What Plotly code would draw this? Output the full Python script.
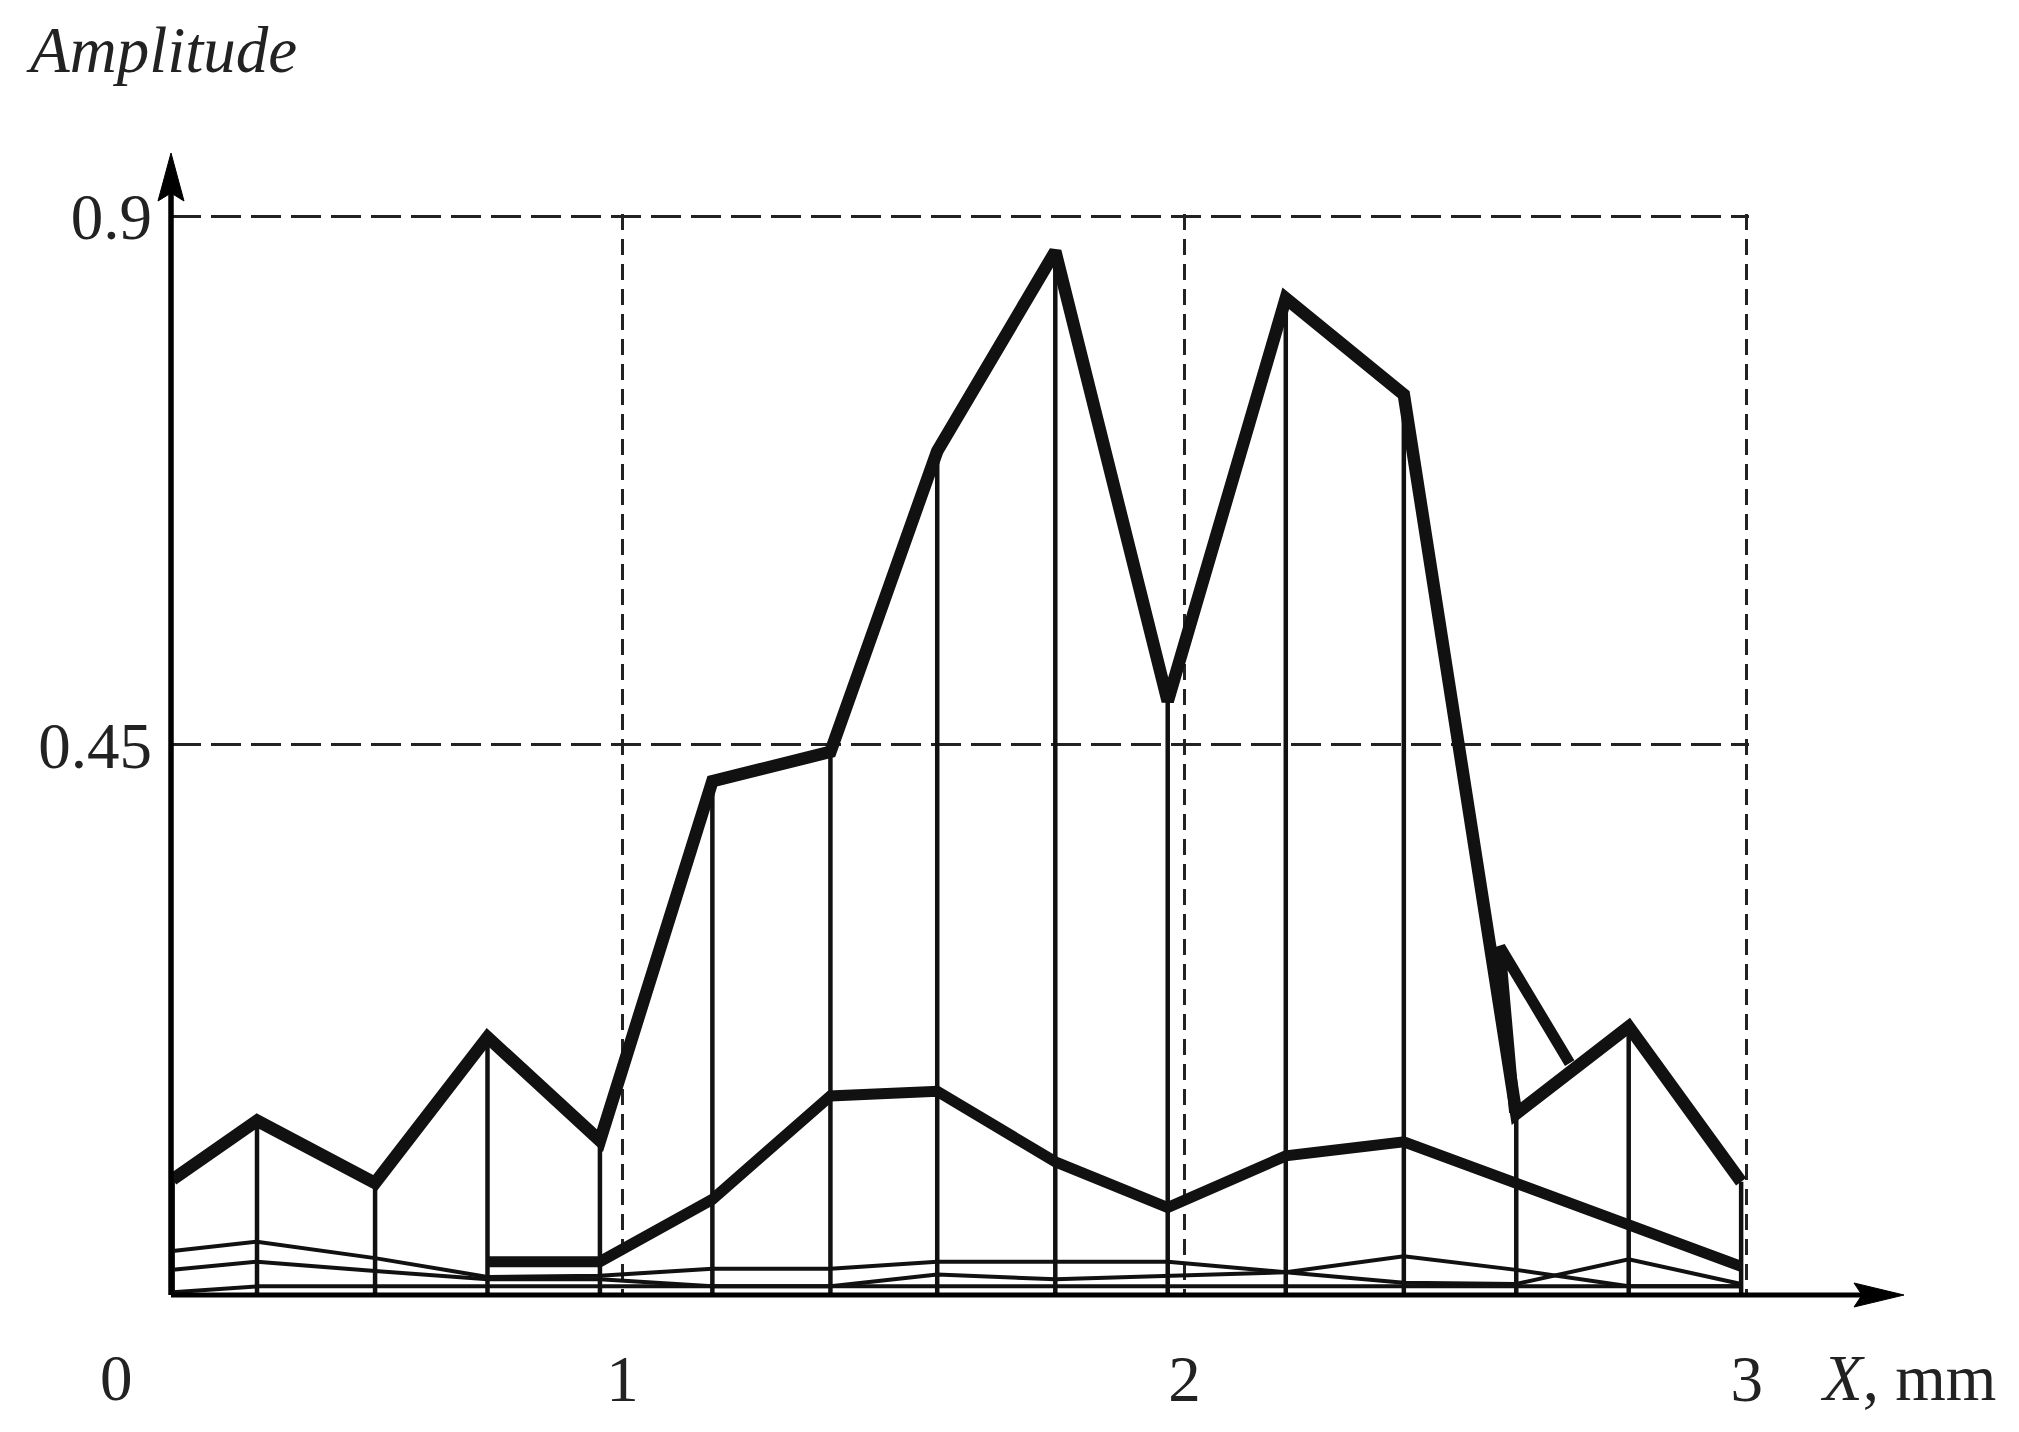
import plotly.graph_objects as go

# ---- data ----
X_MM = [0.2, 0.35, 0.56, 0.76, 0.96, 1.16, 1.37, 1.56, 1.77, 1.97, 2.18, 2.39, 2.59, 2.79, 2.99]
MAIN = [0.080, 0.130, 0.077, 0.201, 0.113, 0.419, 0.444, 0.700, 0.870, 0.487, 0.830, 0.748, 0.136, 0.210, 0.078]
SECOND = [None, None, None, 0.010, 0.010, 0.063, 0.151, 0.155, 0.095, 0.056, 0.100, 0.112, 0.077, 0.040, 0.006]
THIN_A = [0.019, 0.027, 0.013, -0.003, -0.002, 0.004, 0.004, 0.010, 0.010, 0.010, 0.001, -0.008, -0.009, 0.012, -0.009]
THIN_B = [0.003, 0.010, 0.002, -0.005, -0.005, -0.011, -0.011, -0.001, -0.005, -0.002, 0.001, 0.0145, 0.003, -0.011, -0.011]
THIN_C = [-0.016, -0.011, -0.011, -0.011, -0.011, -0.011, -0.011, -0.011, -0.011, -0.011, -0.011, -0.011, -0.011, -0.011, -0.011]
EXTRA_X = [2.587, 2.561, 2.685]
EXTRA_Y = [0.137, 0.278, 0.179]

X_TICKS = [1, 2, 3]
X_TICKTEXT = ["1", "2", "3"]
Y_TICKS = [0.45, 0.9]
Y_TICKTEXT = ["0.45", "0.9"]
X_RANGE = [0.197, 3.004]
Y_RANGE = [-0.0184, 0.9018]

# ---- layout geometry (page has an 8px body margin) ----
OFF = 8
W, H = 2019 - 2 * OFF, 1432 - 2 * OFF
P_LEFT, P_RIGHT, P_TOP, P_BOTTOM = 171, 1749, 214, 1295   # plot area in page pixels
ML, MT = P_LEFT - OFF, P_TOP - OFF
PW, PH = P_RIGHT - P_LEFT, P_BOTTOM - P_TOP
MR, MB = W - ML - PW, H - MT - PH
FONT = "Liberation Serif"
INK = "#111"
FS = 65

def pxp(x):  # page x -> paper
    return (x - P_LEFT) / PW

def pyp(y):  # page y -> paper
    return (P_BOTTOM - y) / PH

fig = go.Figure()

# stems from the main curve to the axis
sx, sy = [], []
for x, y in zip(X_MM, MAIN):
    sx += [x, x, None]
    sy += [y, Y_RANGE[0], None]
fig.add_trace(go.Scatter(x=sx, y=sy, mode="lines", line=dict(color=INK, width=4.5),
                         hoverinfo="skip", showlegend=False))

for ys in (THIN_A, THIN_B, THIN_C):
    fig.add_trace(go.Scatter(x=X_MM, y=ys, mode="lines", line=dict(color=INK, width=4),
                             showlegend=False))

fig.add_trace(go.Scatter(x=X_MM, y=SECOND, mode="lines", line=dict(color=INK, width=11),
                         showlegend=False))
fig.add_trace(go.Scatter(x=X_MM, y=MAIN, mode="lines", line=dict(color=INK, width=12.5),
                         showlegend=False))
fig.add_trace(go.Scatter(x=EXTRA_X, y=EXTRA_Y, mode="lines", line=dict(color=INK, width=11),
                         showlegend=False))

# ---- axes with arrows (paper coordinates) ----
px = 1.0 / PW
py = 1.0 / PH
x_tip = pxp(1904)
y_tip = pyp(153)
shapes = [
    dict(type="line", xref="paper", yref="paper", x0=0, y0=0, x1=x_tip - 30 * px, y1=0,
         line=dict(color="black", width=5)),
    dict(type="line", xref="paper", yref="paper", x0=0, y0=0, x1=0, y1=y_tip - 30 * py,
         line=dict(color="black", width=5.5)),
    # x arrow head
    dict(type="path", xref="paper", yref="paper",
         path=f"M {x_tip} 0 L {x_tip - 50*px} {12*py} L {x_tip - 42*px} 0 L {x_tip - 50*px} {-12*py} Z",
         fillcolor="black", line=dict(color="black", width=1)),
    # y arrow head
    dict(type="path", xref="paper", yref="paper",
         path=f"M 0 {y_tip} L {-13*px} {y_tip - 48*py} L 0 {y_tip - 40*py} L {13*px} {y_tip - 48*py} Z",
         fillcolor="black", line=dict(color="black", width=1)),
]

annotations = [
    dict(text="<i>Amplitude</i>", xref="paper", yref="paper", x=pxp(24), y=pyp(50),
         xanchor="left", yanchor="middle", showarrow=False, font=dict(family=FONT, size=FS, color="#222")),
    dict(text="<i>X</i>, mm", xref="paper", yref="paper", x=pxp(1818), y=pyp(1378),
         xanchor="left", yanchor="middle", showarrow=False, font=dict(family=FONT, size=FS, color="#222")),
    dict(text="0", xref="paper", yref="paper", x=pxp(116), y=pyp(1378),
         xanchor="center", yanchor="middle", showarrow=False, font=dict(family=FONT, size=FS, color="#222")),
]

fig.update_layout(
    width=W, height=H,
    margin=dict(l=ML, r=MR, t=MT, b=MB, pad=0, autoexpand=False),
    paper_bgcolor="white", plot_bgcolor="white",
    showlegend=False,
    shapes=shapes,
    annotations=annotations,
    xaxis=dict(range=X_RANGE, tickmode="array", tickvals=X_TICKS, ticktext=X_TICKTEXT,
               showgrid=True, gridcolor="#222", gridwidth=2.5, griddash="16px,9px",
               zeroline=False, showline=False, ticks="", ticklabelstandoff=40,
               tickfont=dict(family=FONT, size=FS, color="#222"), fixedrange=True),
    yaxis=dict(range=Y_RANGE, tickmode="array", tickvals=Y_TICKS, ticktext=Y_TICKTEXT,
               showgrid=True, gridcolor="#222", gridwidth=2.5, griddash="30px,10px",
               zeroline=False, showline=False, ticks="", ticklabelstandoff=18,
               tickfont=dict(family=FONT, size=FS, color="#222"), fixedrange=True),
)

fig.write_html("out.html")
